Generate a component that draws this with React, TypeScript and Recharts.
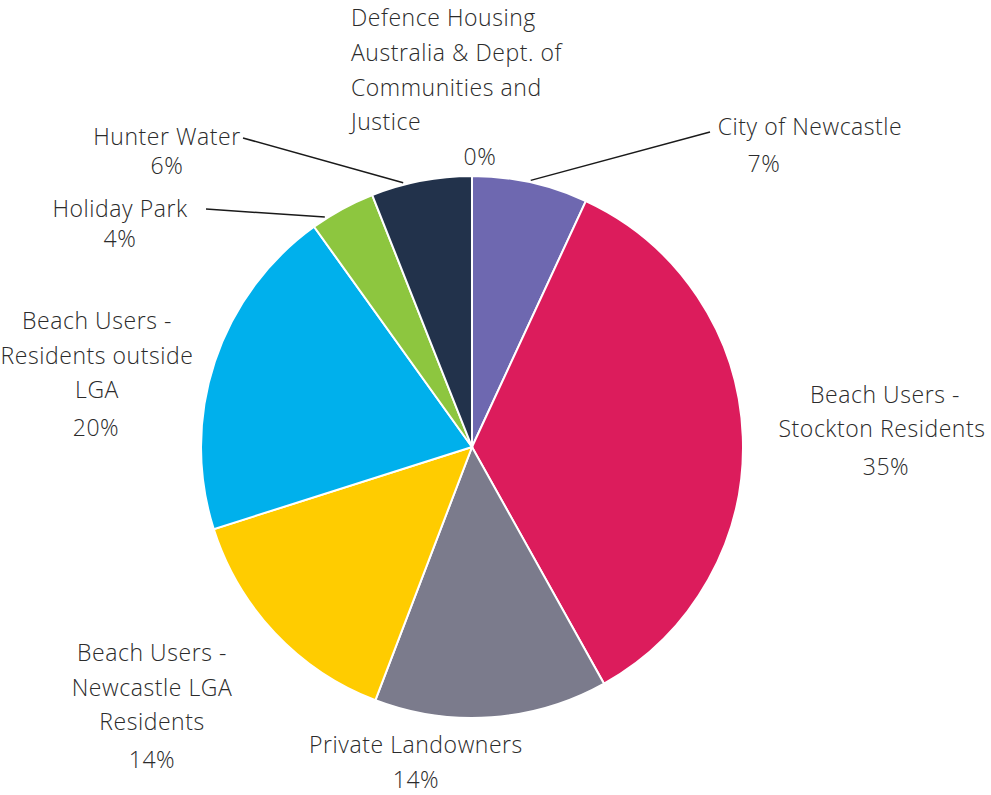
import React from "react";
import { PieChart, Pie, Cell } from "recharts";

// ---- data ----
const categories = [
  "City of Newcastle",
  "Beach Users - Stockton Residents",
  "Private Landowners",
  "Beach Users - Newcastle LGA Residents",
  "Beach Users - Residents outside LGA",
  "Holiday Park",
  "Hunter Water",
  "Defence Housing Australia & Dept. of Communities and Justice",
];
const shares = [6.9, 35.0, 13.9, 14.3, 20.0, 3.9, 6.0, 0];
const labelLines = [
  ["City of Newcastle"],
  ["Beach Users -", "Stockton Residents"],
  ["Private Landowners"],
  ["Beach Users -", "Newcastle LGA", "Residents"],
  ["Beach Users -", "Residents outside", "LGA"],
  ["Holiday Park"],
  ["Hunter Water"],
  ["Defence Housing", "Australia & Dept. of", "Communities and", "Justice"],
];

// ---- style ----
const COLORS = ["#6E68B0", "#DC1C5C", "#7B7B8C", "#FFCC00", "#00B0EC", "#8DC63F", "#22324B", "#22324B"];
const FONT = "'Open Sans', sans-serif";
const TEXT_COLOR = "#2b2b2b";
const FS = 23;
const LS = 0.55;
const CX = 472;
const CY = 447;
const R = 271;

// label layout relative to pie centre
type LL = {
  x: number;
  ys: number[];
  px: number;
  py: number;
  anchor: "start" | "middle" | "end";
  xs?: number[];
  leader?: [number, number];
  shift?: number; // degrees added to midAngle for leader start
};
const LAYOUT: LL[] = [
  { x: 338, ys: [-321], px: 292, py: -284, anchor: "middle", leader: [238, -315], shift: 0 },
  { x: 412, ys: [-53, -19], xs: [413, 410], px: 414, py: 19, anchor: "middle" },
  { x: -56, ys: [297], px: -56, py: 332, anchor: "middle" },
  { x: -320, ys: [205, 240, 274], px: -320, py: 312, anchor: "middle" },
  { x: -375, ys: [-127, -92, -58], px: -376, py: -20, anchor: "middle" },
  { x: -352, ys: [-239], px: -352, py: -209, anchor: "middle", leader: [-266, -238], shift: 4 },
  { x: -305, ys: [-311], px: -305, py: -282, anchor: "middle", leader: [-229, -309], shift: 3.8 },
  { x: -121, ys: [-430, -395, -360, -326], px: 8, py: -291, anchor: "start" },
];

const RAD = Math.PI / 180;

const textProps = {
  fill: TEXT_COLOR,
  fontFamily: FONT,
  fontSize: FS,
  fontWeight: 300,
  letterSpacing: LS,
  dominantBaseline: "central" as const,
};

const renderLabel = (props: any) => {
  const { cx, cy, midAngle, outerRadius, index, percent } = props;
  const lay = LAYOUT[index];
  if (!lay) return null;
  const lines = labelLines[index];
  const pct = `${Math.round(percent * 100)}%`;
  const a = (midAngle + (lay.shift || 0)) * RAD;
  const sx = cx + (outerRadius + 2) * Math.cos(-a);
  const sy = cy + (outerRadius + 2) * Math.sin(-a);
  return (
    <g key={`lbl-${index}`}>
      {lay.leader && (
        <line
          x1={sx}
          y1={sy}
          x2={cx + lay.leader[0]}
          y2={cy + lay.leader[1]}
          stroke="#1a1a1a"
          strokeWidth={1.5}
        />
      )}
      {lines.map((t, i) => (
        <text
          key={i}
          x={cx + (lay.xs ? lay.xs[i] : lay.x)}
          y={cy + lay.ys[i]}
          textAnchor={lay.anchor}
          {...textProps}
        >
          {t}
        </text>
      ))}
      <text x={cx + lay.px} y={cy + lay.py} textAnchor="middle" {...textProps}>
        {pct}
      </text>
    </g>
  );
};

const data = categories.map((name, i) => ({ name, value: shares[i] }));

export default function App() {
  return (
    <div style={{ position: "absolute", left: 0, top: 0, background: "#fff" }}>
      <PieChart width={991} height={795} margin={{ top: 0, right: 0, bottom: 0, left: 0 }}>
        <Pie
          data={data}
          dataKey="value"
          nameKey="name"
          cx={CX}
          cy={CY}
          outerRadius={R}
          innerRadius={0}
          startAngle={90}
          endAngle={-270}
          stroke="#ffffff"
          strokeWidth={2}
          label={renderLabel}
          labelLine={false}
          isAnimationActive={false}
        >
          {data.map((d, i) => (
            <Cell key={d.name} fill={COLORS[i]} />
          ))}
        </Pie>
      </PieChart>
    </div>
  );
}
